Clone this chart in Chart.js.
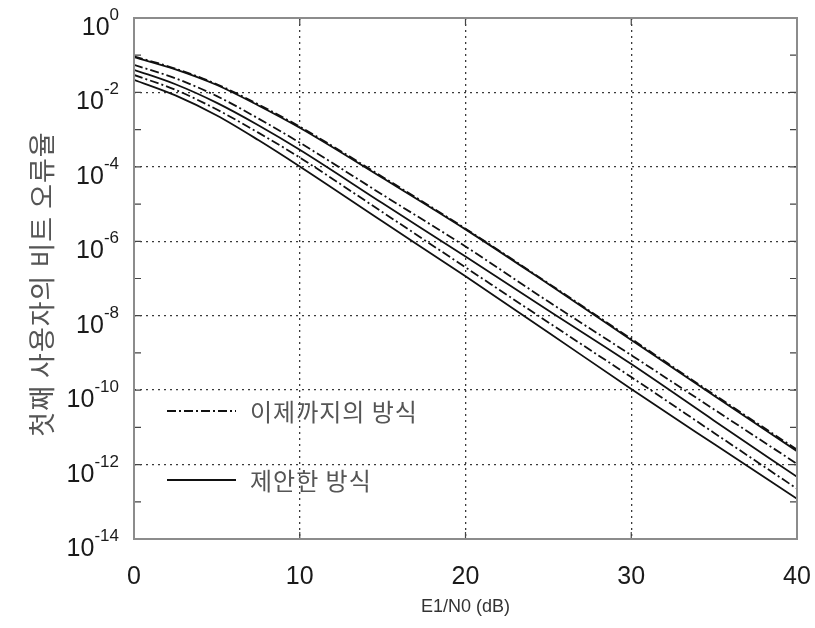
<!DOCTYPE html>
<html>
<head>
<meta charset="utf-8">
<script src="https://cdn.jsdelivr.net/npm/chart.js@4.4.1/dist/chart.umd.min.js"></script>
<style>
    html, body { margin: 0; padding: 0; background: #fff; }
</style>
</head>
<body>
<canvas id="berChart" width="815" height="628"></canvas>
<script>
// ── data ─────────────────────────────────────────────────────────────────
// E1/N0 sample points (dB)
const snrDb = [0, 2.5, 5, 7.5, 10, 15, 20, 25, 30, 35, 40];

// log10(BER) for the conventional scheme (dash-dot curves)
const prevTop = [-1.03, -1.36, -1.78, -2.32, -2.92, -4.27, -5.66, -7.13, -8.62, -10.12, -11.60];
const prevMid = [-1.26, -1.62, -2.10, -2.70, -3.35, -4.75, -6.14, -7.62, -9.06, -10.52, -11.98];
const prevLow = [-1.53, -1.93, -2.46, -3.08, -3.75, -5.22, -6.70, -8.18, -9.65, -11.15, -12.65];

// log10(BER) for the proposed scheme (solid curves)
const propTop = [-1.05, -1.38, -1.80, -2.35, -2.95, -4.30, -5.68, -7.15, -8.65, -10.15, -11.64];
const propMid = [-1.39, -1.78, -2.28, -2.88, -3.54, -4.98, -6.41, -7.86, -9.30, -10.82, -12.33];
const propLow = [-1.66, -2.08, -2.62, -3.28, -3.99, -5.47, -6.94, -8.45, -9.97, -11.45, -12.92];

const xTicks = [0, 10, 20, 30, 40];
const yExponents = [0, -2, -4, -6, -8, -10, -12, -14];
const legendLabels = ['이제까지의 방식', '제안한 방식'];

const PREV_DASH = [9, 3, 2, 3];
const LATIN = '"Liberation Sans", Arial, sans-serif';
const HANGUL = '"Noto Sans CJK KR", sans-serif';

function toPoints(logs) {
    return snrDb.map((x, i) => ({ x: x, y: Math.pow(10, logs[i]) }));
}

function curve(logs, dashed) {
    return {
        data: toPoints(logs),
        borderColor: '#111',
        borderWidth: 1.8,
        borderDash: dashed ? PREV_DASH : [],
        pointRadius: 0,
        cubicInterpolationMode: 'monotone',
        fill: false
    };
}

// axis labels, frame, little tick marks and the in-plot legend
const decorations = {
    id: 'decorations',
    afterDraw(chart) {
        const ctx = chart.ctx;
        const area = chart.chartArea;
        const xs = chart.scales.x;
        const ys = chart.scales.y;

        ctx.save();

        // short inward ticks
        ctx.strokeStyle = '#444';
        ctx.lineWidth = 1.2;
        ctx.setLineDash([]);
        for (let e = 0; e >= -14; e--) {
            const py = ys.getPixelForValue(Math.pow(10, e));
            ctx.beginPath();
            ctx.moveTo(area.left, py); ctx.lineTo(area.left + 7, py);
            ctx.moveTo(area.right, py); ctx.lineTo(area.right - 7, py);
            ctx.stroke();
        }
        xTicks.forEach(v => {
            const px = xs.getPixelForValue(v);
            ctx.beginPath();
            ctx.moveTo(px, area.bottom); ctx.lineTo(px, area.bottom - 7);
            ctx.moveTo(px, area.top); ctx.lineTo(px, area.top + 7);
            ctx.stroke();
        });

        // frame
        ctx.strokeStyle = '#8c8c8c';
        ctx.lineWidth = 2;
        ctx.strokeRect(area.left, area.top, area.right - area.left, area.bottom - area.top);

        // x tick labels
        ctx.fillStyle = '#1a1a1a';
        ctx.font = '25px ' + LATIN;
        ctx.textAlign = 'center';
        ctx.textBaseline = 'middle';
        xTicks.forEach(v => {
            ctx.fillText(String(v), xs.getPixelForValue(v), 577);
        });

        // y tick labels: 10 with a raised exponent
        ctx.textAlign = 'left';
        ctx.textBaseline = 'alphabetic';
        yExponents.forEach(e => {
            const py = ys.getPixelForValue(Math.pow(10, e));
            const exp = String(e);
            ctx.font = '17px ' + LATIN;
            const ew = ctx.measureText(exp).width;
            ctx.font = '25px ' + LATIN;
            const bw = ctx.measureText('10').width;
            const right = 119;
            ctx.fillText('10', right - ew - bw, py + 17);
            ctx.font = '17px ' + LATIN;
            ctx.fillText(exp, right - ew, py + 2);
        });

        // axis titles
        ctx.fillStyle = '#333';
        ctx.font = '18px ' + LATIN;
        ctx.textAlign = 'center';
        ctx.textBaseline = 'middle';
        ctx.fillText('E1/N0 (dB)', (area.left + area.right) / 2, 607);

        ctx.save();
        ctx.translate(42, 284);
        ctx.rotate(-Math.PI / 2);
        ctx.fillStyle = '#555';
        ctx.font = '27px ' + HANGUL;
        ctx.letterSpacing = '1px';
        ctx.fillText('첫째 사용자의 비트 오류율', 0, 0);
        ctx.restore();

        // legend inside the plot
        const rows = [{ y: 411, dash: PREV_DASH }, { y: 480, dash: [] }];
        rows.forEach((r, i) => {
            ctx.strokeStyle = '#111';
            ctx.lineWidth = 1.8;
            ctx.setLineDash(r.dash);
            ctx.beginPath();
            ctx.moveTo(167, r.y); ctx.lineTo(236, r.y);
            ctx.stroke();
            ctx.setLineDash([]);
            ctx.fillStyle = '#555';
            ctx.font = '24px ' + HANGUL;
            ctx.letterSpacing = '1px';
            ctx.textAlign = 'left';
            ctx.textBaseline = 'middle';
            ctx.fillText(legendLabels[i], 250, r.y + 1);
        });

        ctx.restore();
    }
};

function gridColor(context, lo, hi) {
    const v = context.tick.value;
    return (v > lo && v < hi) ? '#3a3a3a' : 'rgba(0,0,0,0)';
}

new Chart(document.getElementById('berChart'), {
    type: 'line',
    data: {
        datasets: [
            curve(propTop, false),
            curve(prevTop, true),
            curve(prevMid, true),
            curve(propMid, false),
            curve(prevLow, true),
            curve(propLow, false)
        ]
    },
    options: {
        responsive: false,
        animation: false,
        layout: { padding: { left: 134, right: 18, top: 18, bottom: 89 } },
        plugins: {
            legend: { display: false },
            tooltip: { enabled: false }
        },
        scales: {
            x: {
                type: 'linear',
                min: 0,
                max: 40,
                afterBuildTicks: s => { s.ticks = xTicks.map(v => ({ value: v })); },
                ticks: { display: false },
                grid: {
                    drawTicks: false,
                    lineWidth: 1.3,
                    color: c => gridColor(c, 0, 40)
                },
                border: { display: false, dash: [2, 4] }
            },
            y: {
                type: 'logarithmic',
                min: 1e-14,
                max: 1,
                afterBuildTicks: s => { s.ticks = yExponents.map(e => ({ value: Math.pow(10, e) })); },
                ticks: { display: false },
                grid: {
                    drawTicks: false,
                    lineWidth: 1.3,
                    color: c => gridColor(c, 1e-14 * 1.5, 0.9)
                },
                border: { display: false, dash: [2, 4] }
            }
        }
    },
    plugins: [decorations]
});
</script>
</body>
</html>
